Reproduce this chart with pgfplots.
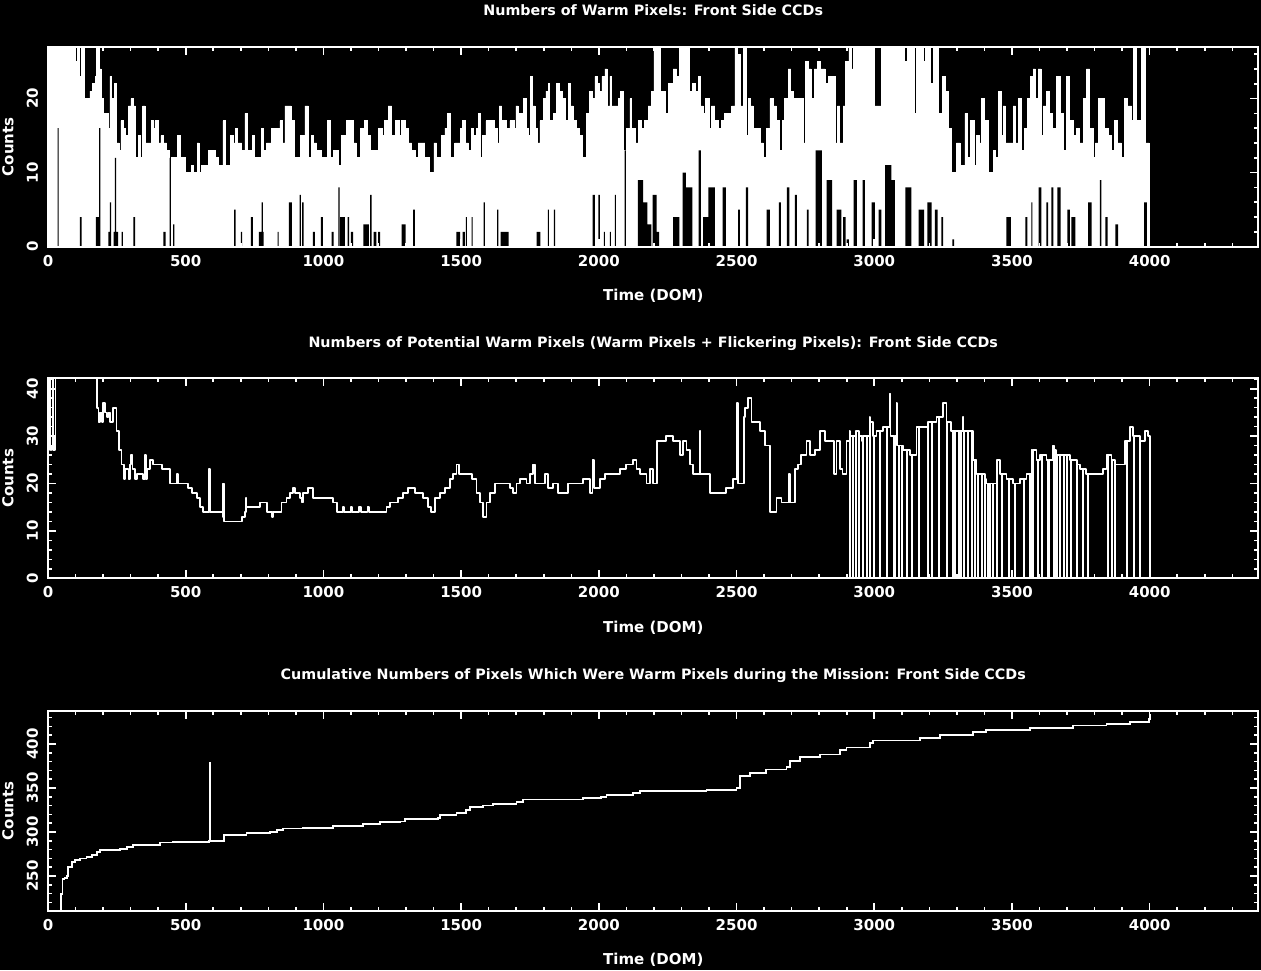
\documentclass[border=0pt]{standalone}
\usepackage{fontspec}
\setmainfont{DejaVu Sans}
\usepackage{pgfplots}
\pgfplotsset{compat=1.18}

\newcommand{\lbl}{\fontsize{15}{18}\selectfont\bfseries}
\newcommand{\ttl}{\fontsize{14.3}{17}\selectfont\bfseries}

\pgfplotsset{
  idl/.style={
    scale only axis, width=1210.5pt, height=200pt,
    anchor=south west,
    xmin=0, xmax=4395,
    xtick={0,500,...,4000},
    minor xtick={100,200,...,4300},
    axis on top,
    axis line style={white, line width=2pt},
    every tick/.style={white, line width=1.6pt},
    major tick length=8pt, minor tick length=4pt,
    /pgf/number format/assume math mode=true,
    /pgf/number format/1000 sep={},
    scaled x ticks=false, scaled y ticks=false,
    tick label style={white, font=\lbl},
    xticklabel style={anchor=north, inner sep=0pt},
    xticklabel shift=8.3pt,
    yticklabel style={rotate=90, anchor=south, inner sep=0pt},
    yticklabel shift=9.7pt,
    xlabel={Time (DOM)}, ylabel={Counts},
    label style={white, font=\lbl},
    xlabel style={at={([yshift=-54pt]axis description cs:0.5,0)}, anchor=base},
    ylabel style={at={([xshift=-34.7pt]axis description cs:0,0.5)}, anchor=base},
    title style={white, font=\ttl, at={([yshift=25pt]axis description cs:0.5,1)}, anchor=base},
  }
}

\begin{document}
\begin{tikzpicture}
\fill[black] (0,0) rectangle (1261pt,970pt);

% ---- panel 1: warm pixels (band between daily max and min) ----
\begin{axis}[idl, at={(48pt,723.3pt)},
  ymin=0, ymax=27, ytick={0,10,20}, minor ytick={2,4,...,26},
  title={Numbers of Warm Pixels: Front Side CCDs}]
\addplot[const plot, fill=white, draw=white, line width=0.7pt] coordinates {
(0,30)(83,26)(88,30)(100,25)(108,30)(115,23)(122,30)(131,15)(135,20)(152,21)(161,22)(171,23)(177,30)(185,24)(192,20)(201,18)(219,16)(225,23)(231,20)(241,22)(249,14)(258,13)(265,17)(273,16)(282,15)(292,19)(301,20)(309,19)(316,12)(328,15)(336,12)(344,19)(352,14)(376,17)(384,16)(388,17)(401,14)(410,15)(420,14)(431,13)(439,11)(449,12)(471,15)(479,12)(497,10)(522,11)(529,10)(541,14)(548,10)(558,11)(582,13)(606,12)(618,11)(635,17)(643,11)(662,15)(673,14)(679,16)(688,14)(703,13)(715,18)(722,13)(742,15)(751,12)(776,16)(783,13)(793,14)(812,16)(842,17)(851,14)(860,19)(882,17)(894,12)(916,15)(933,19)(945,12)(957,15)(964,14)(975,13)(993,12)(1015,17)(1025,12)(1037,13)(1054,11)(1064,15)(1084,17)(1108,14)(1120,12)(1133,16)(1148,17)(1158,15)(1169,13)(1187,13)(1199,16)(1214,15)(1223,17)(1235,19)(1248,15)(1260,17)(1274,15)(1284,17)(1298,16)(1308,14)(1320,13)
(1332,12)(1344,14)(1368,12)(1383,10)(1401,14)(1411,12)(1427,15)(1441,16)(1450,18)(1462,12)(1477,14)(1496,16)(1505,17)(1514,14)(1526,13)(1538,16)(1544,15)(1556,16)(1562,18)(1571,12)(1578,15)(1590,17)(1619,16)(1631,14)(1638,19)(1647,17)(1665,16)(1677,17)(1692,16)(1699,19)(1707,18)(1725,20)(1735,16)(1744,15)(1752,23)(1758,19)(1768,16)(1776,14)(1786,17)(1798,20)(1808,21)(1816,22)(1822,17)(1834,18)(1846,22)(1856,21)(1868,20)(1878,17)(1890,22)(1897,19)(1907,17)(1919,16)(1931,15)(1940,12)(1955,18)(1967,21)(1977,20)(1986,23)(1994,22)(2001,21)(2011,23)(2022,24)(2030,19)(2040,23)(2046,19)(2070,20)(2079,21)(2088,13)(2101,16)(2113,20)(2119,16)(2131,14)(2143,17)(2155,16)(2167,17)(2179,19)(2191,21)(2200,30)(2222,21)(2240,18)(2252,22)(2270,24)(2282,23)(2294,30)(2330,21)(2340,22)(2352,21)(2361,23)(2369,19)(2379,18)(2388,20)(2401,16)(2409,19)(2421,17)(2433,16)(2445,17)(2457,18)(2482,19)(2494,30)(2502,26)(2512,19)(2524,30)(2534,15)(2542,20)(2551,19)(2560,16)(2585,14)(2597,12)(2609,16)(2621,20)(2633,19)(2645,14)
(2649,17)(2657,13)(2666,17)(2675,20)(2687,24)(2697,21)(2706,20)(2721,15)(2726,20)(2743,14)(2750,25)(2760,24)(2770,20)(2782,24)(2794,25)(2806,24)(2821,22)(2830,14)(2835,23)(2857,14)(2866,19)(2875,14)(2887,19)(2896,25)(2908,30)(2917,24)(2925,30)(2956,21)(2961,30)(3002,19)(3026,30)(3108,25)(3121,30)(3145,18)(3152,30)(3177,25)(3186,30)(3205,22)(3215,30)(3232,18)(3248,23)(3259,21)(3268,16)(3280,10)(3298,14)(3311,9)(3317,11)(3329,18)(3338,12)(3350,17)(3363,11)(3371,15)(3380,14)(3389,20)(3401,17)(3413,10)(3432,13)(3440,12)(3450,21)(3462,15)(3468,19)(3476,14)(3504,19)(3513,14)(3522,20)(3534,13)(3544,16)(3556,20)(3568,23)(3577,24)(3585,20)(3595,24)(3605,15)(3613,19)(3625,21)(3637,18)(3646,16)(3661,23)(3674,18)(3686,13)(3698,23)(3710,17)(3722,15)(3734,16)(3746,14)(3758,20)(3770,24)(3782,16)(3795,12)(3803,14)(3813,20)(3837,16)(3849,15)(3861,13)(3873,17)(3883,14)(3897,12)(3907,20)(3919,19)(3934,17)(3940,30)(3950,17)(3970,30)(3985,14)(3998,1)(4000,0)
} \closedcycle;
% daily minimum: the band below it stays dark
\addplot[const plot, fill=black, draw=none] coordinates {
(0,0)(35,16)(39,0)(116,4)(122,0)(174,4)(186,16)(190,0)(219,2)(225,6)(229,0)(238,2)(243,12)(247,2)(255,0)(267,2)(272,0)(310,4)(316,0)(419,2)(427,0)(442,12)(446,0)(454,3)(459,0)(676,5)(681,0)(700,2)(705,0)(737,4)(744,0)(766,2)(776,6)(780,2)(783,0)(834,2)(837,0)(875,6)(885,0)(914,7)(918,0)(923,6)(928,0)(962,2)(969,0)(991,4)(998,0)(1030,2)(1037,0)(1054,8)(1059,0)(1061,4)(1078,0)(1088,4)(1093,0)(1100,2)(1108,0)(1145,3)(1165,0)(1170,7)(1175,0)(1182,2)(1192,0)(1199,2)(1206,0)(1284,3)(1298,0)(1326,5)(1332,0)(1483,2)(1496,0)(1505,2)(1514,0)(1517,4)(1521,0)(1538,4)(1542,0)(1582,6)(1586,0)(1631,5)(1635,0)(1643,2)(1672,0)(1774,2)(1788,0)(1815,5)(1819,0)(1837,5)(1841,0)(1977,7)(1986,0)(1998,7)(2004,0)(2018,2)(2022,0)(2040,2)(2044,0)(2058,7)(2062,0)(2094,13)(2098,0)(2142,9)(2161,6)(2176,3)(2191,0)(2195,7)(2210,2)(2219,0)(2270,4)(2292,0)(2304,10)(2316,8)(2340,0)(2362,13)(2370,0)(2379,4)(2398,8)(2421,0)(2449,8)(2461,0)(2506,5)(2512,0)(2534,8)(2542,0)(2609,5)(2621,0)(2654,6)(2661,0)(2683,8)(2692,0)(2712,7)(2719,0)(2755,5)(2762,0)(2787,13)(2810,0)(2827,9)(2847,0)(2863,5)(2881,0)(2887,4)(2896,0)(2900,1)(2908,0)(2925,9)(2937,0)(2958,9)(2966,0)(2990,6)(3002,0)(3016,5)(3026,0)(3039,11)(3062,9)(3075,0)(3113,8)(3135,0)(3161,5)(3181,0)(3193,6)(3208,0)(3220,5)(3230,0)(3244,4)(3250,0)(3284,1)(3290,0)(3480,4)(3496,0)(3549,4)(3556,0)(3570,6)(3574,0)(3597,8)(3607,0)(3625,6)(3631,0)(3643,8)(3650,0)(3665,8)(3677,0)(3701,5)(3710,0)(3716,4)(3730,0)(3776,6)(3789,0)(3819,9)(3825,0)(3839,4)(3847,0)(3875,3)(3885,0)(3980,6)(3990,0)(4000,0)
} \closedcycle;
\end{axis}

% ---- panel 2: potential warm pixels ----
\begin{axis}[idl, at={(48pt,391.7pt)},
  ymin=0, ymax=42.2, ytick={0,10,...,40}, minor ytick={2,4,...,42},
  title={Numbers of Potential Warm Pixels (Warm Pixels + Flickering Pixels): Front Side CCDs}]
\addplot[white, line width=1.8pt, const plot, line join=round] coordinates {
(0,27)(3,29)(6,45)(9,27)(13,28)(16,45)(19,27)(24,30)(27,60)(176,60)(179,36)(183,33)(189,35)(195,33)(201,37)(207,35)(214,34)(220,35)(225,33)(237,36)(249,31)(259,27)(267,24)(276,21)(280,23)(286,23)(292,21)(298,24)(302,26)(307,23)(315,21)(322,22)(334,22)(346,21)(352,26)(356,21)(358,23)(370,25)(382,24)(394,24)(413,23)(425,23)(443,20)(455,20)(467,22)(473,20)(485,20)(509,19)(522,18)(540,17)(552,15)(564,14)(584,14)(586,23)(588,14)(612,14)(630,14)(634,13)(636,20)(639,12)(661,12)(691,12)(703,13)(715,14)(718,17)(721,15)(745,15)(770,16)(794,14)(812,14)(814,13)(816,14)(836,14)(848,16)(866,17)(878,18)(890,19)(897,18)(915,17)(921,16)(927,18)(945,19)(963,17)(987,17)(1024,17)(1036,16)(1048,14)(1070,15)(1075,14)(1100,15)(1105,14)(1130,15)(1135,14)(1160,15)(1165,14)(1193,14)(1229,15)(1241,16)(1272,17)(1290,18)(1308,19)(1332,18)(1350,18)
(1362,17)(1380,15)(1392,14)(1404,17)(1423,18)(1441,19)(1459,21)(1471,22)(1483,24)(1493,22)(1538,21)(1556,18)(1568,16)(1580,13)(1592,16)(1604,18)(1622,20)(1640,20)(1677,19)(1689,18)(1701,20)(1713,21)(1725,21)(1737,20)(1749,22)(1761,24)(1767,20)(1786,20)(1804,22)(1816,19)(1834,20)(1852,18)(1888,20)(1907,20)(1943,21)(1967,18)(1977,25)(1982,19)(2003,21)(2022,22)(2052,22)(2076,23)(2100,24)(2124,25)(2137,23)(2149,22)(2173,20)(2185,23)(2197,20)(2210,20)(2212,29)(2245,30)(2270,29)(2294,26)(2306,29)(2318,27)(2330,24)(2342,22)(2364,22)(2366,31)(2369,22)(2391,22)(2403,18)(2415,18)(2463,19)(2487,21)(2500,21)(2502,37)(2506,20)(2524,20)(2527,34)(2530,36)(2542,38)(2554,33)(2566,33)(2584,31)(2602,28)(2619,28)(2621,14)(2627,14)(2645,17)(2663,16)(2681,16)(2691,22)(2695,16)(2699,16)(2711,23)(2723,24)(2735,26)(2754,29)(2766,26)(2784,27)(2802,31)(2820,29)(2850,29)(2855,22)(2863,29)
(2875,23)(2885,22)(2899,29)(2910,31)(2911,0)(2912,30)(2920,30)(2921,0)(2922,30)(2932,30)(2933,0)(2934,31)(2944,30)(2945,0)(2946,30)(2956,29)(2957,0)(2958,30)(2972,30)(2973,0)(2974,30)(2984,34)(2985,0)(2986,33)(2996,30)(2997,0)(2998,30)(3008,31)(3020,31)(3021,0)(3022,31)(3032,32)(3044,32)(3045,0)(3046,32)(3057,39)(3059,30)(3066,30)(3072,30)(3073,0)(3074,30)(3081,37)(3083,28)(3087,28)(3088,0)(3089,28)(3100,28)(3101,0)(3102,28)(3105,27)(3117,27)(3118,0)(3119,27)(3129,26)(3136,26)(3137,0)(3138,26)(3153,32)(3160,32)(3161,0)(3162,32)(3178,32)(3195,33)(3196,0)(3197,33)(3202,33)(3208,33)(3209,0)(3210,33)(3226,34)(3232,34)(3233,0)(3234,34)(3250,37)(3262,33)(3263,0)(3264,33)(3280,31)(3286,31)(3287,0)(3288,31)(3292,31)(3293,0)(3294,31)(3299,31)(3305,31)(3306,0)(3307,31)(3312,31)(3313,0)(3314,31)(3323,34)(3324,0)(3325,31)(3340,31)(3341,0)(3342,31)(3352,31)(3353,0)(3354,31)(3357,25)(3364,25)(3365,0)(3366,25)(3371,22)(3376,22)(3377,0)(3378,22)(3383,22)(3388,22)(3389,0)(3390,22)(3400,22)(3401,0)(3402,21)(3407,20)(3412,20)(3413,0)(3414,20)(3418,20)(3419,0)(3420,20)(3430,20)(3431,0)(3432,20)(3444,20)(3445,0)(3446,25)(3456,22)(3462,22)(3463,0)(3464,22)(3480,21)(3487,21)(3488,0)(3489,21)(3504,20)(3511,20)(3512,0)(3513,20)(3528,21)(3541,21)(3542,0)(3543,21)(3553,22)(3565,22)(3566,0)(3567,22)(3571,27)(3574,0)(3575,27)(3589,25)(3594,25)(3595,0)(3596,25)(3601,26)(3606,26)(3607,0)(3608,26)(3625,25)(3631,25)(3632,0)(3633,25)(3649,28)(3652,0)(3653,27)(3660,26)(3661,0)(3662,26)(3674,26)(3675,0)(3676,26)(3686,26)(3687,0)(3688,26)(3698,26)(3699,0)(3700,26)(3712,25)(3713,0)(3714,25)(3722,25)(3735,24)(3736,0)(3737,24)(3746,23)(3756,23)(3757,0)(3758,23)(3770,22)(3775,22)(3776,0)(3777,22)(3807,22)(3831,23)(3843,26)(3848,0)(3849,26)(3861,25)(3862,0)(3863,25)(3873,25)(3874,0)(3875,24)(3891,24)(3910,29)(3917,0)(3918,29)(3928,32)(3940,30)(3941,0)(3942,30)(3964,29)(3965,0)(3966,29)(3982,31)(3994,30)(3998,30)(4000,0)
};
\end{axis}

% ---- panel 3: cumulative warm pixels ----
\begin{axis}[idl, at={(48pt,59.3pt)},
  ymin=210.6, ymax=437.8, ytick={250,300,350,400}, minor ytick={220,230,...,430},
  title={Cumulative Numbers of Pixels Which Were Warm Pixels during the Mission: Front Side CCDs}]
\addplot[white, line width=1.8pt, const plot] coordinates {
(44,200)(48,230)(53,247)(60,248)(68,250)(74,260)(86,266)(98,268)(116,270)(140,272)(160,274)(177,277)(189,280)(261,281)(286,283)(310,285)(407,288)(455,289)(586,290)(587,378)(590,290)(636,290)(640,297)(673,297)(721,299)(806,300)(830,302)(854,304)(927,305)(1036,307)(1145,309)(1205,311)(1278,312)(1296,315)(1350,315)(1417,316)(1423,319)(1483,322)(1519,325)(1532,328)(1580,330)(1616,332)(1701,334)(1725,337)(1943,339)(2009,340)(2028,342)(2124,344)(2149,347)(2391,348)(2500,350)(2512,364)(2548,367)(2608,371)(2681,374)(2693,381)(2729,385)(2802,388)(2875,393)(2899,396)(2984,401)(2996,404)(3165,407)(3238,410)(3359,414)(3407,416)(3565,418)(3722,421)(3843,423)(3928,425)(3998,428)(4000,434)
};
\end{axis}

\pgfresetboundingbox
\useasboundingbox (0,0) rectangle (1261pt,970pt);
\end{tikzpicture}
\end{document}
